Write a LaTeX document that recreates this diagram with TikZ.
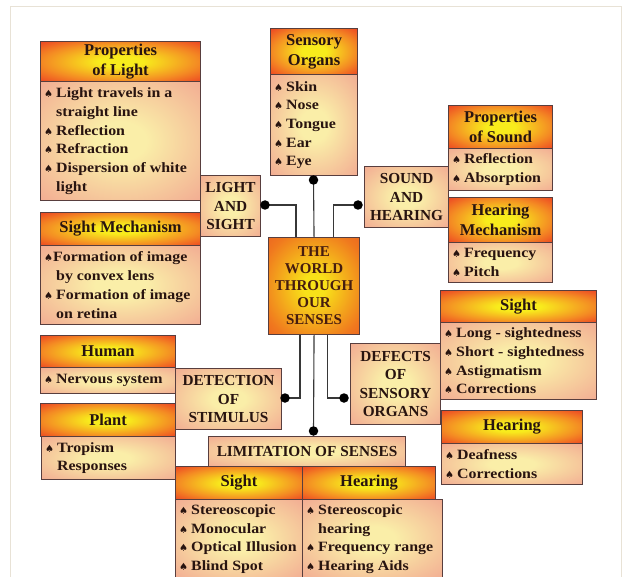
\documentclass[tikz,border=0pt]{standalone}
\usepackage{fontspec}
\setmainfont{Liberation Serif}
\newfontfamily\bodyf{Liberation Serif}[FakeStretch=1.12]
\newfontfamily\symf{DejaVu Sans}
\usetikzlibrary{calc}
\definecolor{hY}{RGB}{248,236,28}
\definecolor{hO}{RGB}{244,140,35}
\definecolor{hR}{RGB}{235,55,35}
\definecolor{bY}{RGB}{250,238,168}
\definecolor{bP}{RGB}{240,152,140}
\definecolor{cY}{RGB}{248,225,25}
\definecolor{cO}{RGB}{240,120,30}
\definecolor{cR}{RGB}{230,72,35}
\definecolor{bordc}{RGB}{88,62,62}
\definecolor{connc}{RGB}{55,55,55}
\definecolor{txtc}{RGB}{40,20,16}
\definecolor{ctxtc}{RGB}{70,28,15}
\definecolor{framec}{RGB}{232,226,214}
\pgfdeclareradialshading{hdrsh}{\pgfpoint{0bp}{0bp}}{color(0bp)=(hY); color(7bp)=(hY); color(24bp)=(hO); color(38bp)=(hR); color(50bp)=(hR)}
\pgfdeclareradialshading{bodysh}{\pgfpoint{0bp}{0bp}}{color(0bp)=(bY); color(8bp)=(bY); color(44bp)=(bP); color(50bp)=(bP)}
\pgfdeclareradialshading{ctrsh}{\pgfpoint{0bp}{0bp}}{color(0bp)=(cY); color(6bp)=(cY); color(30bp)=(cO); color(48bp)=(cR); color(50bp)=(cR)}
\newcommand\bl{{\symf\fontsize{10}{10}\selectfont ♠}\hspace{3pt}}
\newcommand\blt{{\symf\fontsize{10}{10}\selectfont ♠}}
\newcommand\ind{\hphantom{\bl}}
\newcommand\hdrbox[6]{\node[hdr, minimum width=#4pt-#2pt, minimum height=#5pt-#3pt] (#1) at (#2,#3) {#6};}
\newcommand\lblbox[6]{\node[lbl, minimum width=#4pt-#2pt, minimum height=#5pt-#3pt] (#1) at (#2,#3) {#6};}
\newcommand\bodybox[6]{\node[bodyb, minimum width=#4pt-#2pt, minimum height=#5pt-#3pt] (#1) at (#2,#3) {};
  \node[btext] (#1-t) at ([xshift=4pt]#1.west) {#6};}
\begin{document}
\begin{tikzpicture}[x=1pt,y=-1pt,
  hdr/.style={draw=bordc, line width=1.1pt, shade, shading=hdrsh, anchor=north west, inner sep=0pt, align=center, text=txtc, font=\bfseries\fontsize{16.5}{20}\selectfont},
  bodyb/.style={draw=bordc, line width=1.1pt, shade, shading=bodysh, anchor=north west, inner sep=0pt},
  btext/.style={anchor=west, inner sep=0pt, align=left, text=txtc, font=\bodyf\bfseries\fontsize{14.2}{18.7}\selectfont},
  lbl/.style={draw=bordc, line width=1.1pt, shade, shading=bodysh, anchor=north west, inner sep=0pt, align=center, text=txtc, font=\bfseries\fontsize{15.3}{18.5}\selectfont},
  ctrb/.style={draw=bordc, line width=1.1pt, shade, shading=ctrsh, anchor=north west, inner sep=0pt, align=center, text=ctxtc, font=\bfseries\fontsize{15}{17}\selectfont},
  dot/.style={circle, fill=black, inner sep=0pt, minimum size=9.5pt},
  conn/.style={draw=connc, line width=1.1pt}]
\useasboundingbox (0,0) rectangle (623,577);
\draw[framec, line width=1pt] (10,577) -- (10,7) -- (621,7) -- (621,577);

% Properties of Light
\hdrbox{polh}{40}{41}{200}{81}{Properties\\of Light}
\bodybox{polb}{40}{81}{200}{200}{\bl Light travels in a\\\ind straight line\\\bl Reflection\\\bl Refraction\\\bl Dispersion of white\\\ind light}
% Sensory Organs
\hdrbox{soh}{270}{28}{357}{74}{Sensory\\Organs}
\bodybox{sob}{270}{74}{357}{175}{\bl Skin\\\bl Nose\\\bl Tongue\\\bl Ear\\\bl Eye}
% Light and sight
\lblbox{ls}{200}{175}{260}{236}{LIGHT\\AND\\SIGHT}
% Properties of Sound
\hdrbox{posh}{448}{105}{552}{148}{Properties\\of Sound}
\bodybox{posb}{448}{148}{552}{190}{\bl Reflection\\\bl Absorption}
% Sound and hearing
\lblbox{sh}{364}{166}{448}{227}{SOUND\\AND\\HEARING}
% Hearing Mechanism
\hdrbox{hmh}{448}{197}{552}{242}{Hearing\\Mechanism}
\bodybox{hmb}{448}{242}{552}{282}{\bl Frequency\\\bl Pitch}
% Centre
\node[ctrb, minimum width=91pt, minimum height=97pt] (ctr) at (268,237) {THE\\WORLD\\THROUGH\\OUR\\SENSES};
% Sight Mechanism
\hdrbox{smh}{40}{212}{200}{245}{Sight Mechanism}
\bodybox{smb}{40}{245}{200}{324}{\blt Formation of image\\\ind by convex lens\\\bl Formation of image\\\ind on retina}
% Human
\hdrbox{huh}{40}{335}{175}{367}{Human}
\bodybox{hub}{40}{367}{175}{393}{\bl Nervous system}
% Detection of stimulus
\lblbox{dos}{175}{368}{281}{429}{DETECTION\\OF\\STIMULUS}
% Plant
\hdrbox{plh}{40}{403}{175}{436}{Plant}
\bodybox{plb}{41}{436}{175}{479}{\bl Tropism\\\ind Responses}
% Limitation of senses
\lblbox{los}{208}{436}{405}{466}{LIMITATION OF SENSES}
\hdrbox{lsh}{175}{466}{302}{499}{Sight}
\bodybox{lsb}{175}{499}{302}{578}{\bl Stereoscopic\\\bl Monocular\\\bl Optical Illusion\\\bl Blind Spot}
\bodybox{lhb}{302}{499}{442}{578}{\bl Stereoscopic\\\ind hearing\\\bl Frequency range\\\bl Hearing Aids}
\hdrbox{lhh}{302}{466}{435}{499}{Hearing}
% Defects
\hdrbox{dsh}{440}{290}{596}{322}{Sight}
\bodybox{dsb}{440}{322}{596}{399}{\bl Long - sightedness\\\bl Short - sightedness\\\bl Astigmatism\\\bl Corrections}
\lblbox{dso}{350}{343}{440}{424}{DEFECTS\\OF\\SENSORY\\ORGANS}
\hdrbox{dhh}{441}{410}{582}{443}{Hearing}
\bodybox{dhb}{441}{443}{582}{484}{\bl Deafness\\\bl Corrections}

% connectors
\coordinate (pso) at (313.5,180);
\coordinate (pls) at (265,205);
\coordinate (psh) at (358,205);
\coordinate (pdos) at (285,398);
\coordinate (plos) at (313.5,431);
\coordinate (pdso) at (344,398);
\draw[conn] (pso) -- (ctr.north);
\draw[conn] (pls) -| ($(ctr.north west)+(28,0)$);
\draw[conn] (psh) -| ($(ctr.north east)+(-27,0)$);
\draw[conn] ($(ctr.south west)+(32,0)$) |- (pdos);
\draw[conn] (ctr.south) -- (plos);
\draw[conn] ($(ctr.south east)+(-33,0)$) |- (pdso);
\node[dot] (dso1) at (pso) {};
\node[dot] (dls) at (pls) {};
\node[dot] (dsh1) at (psh) {};
\node[dot] (ddos) at (pdos) {};
\node[dot] (dlos) at (plos) {};
\node[dot] (ddso) at (pdso) {};
\end{tikzpicture}
\end{document}
